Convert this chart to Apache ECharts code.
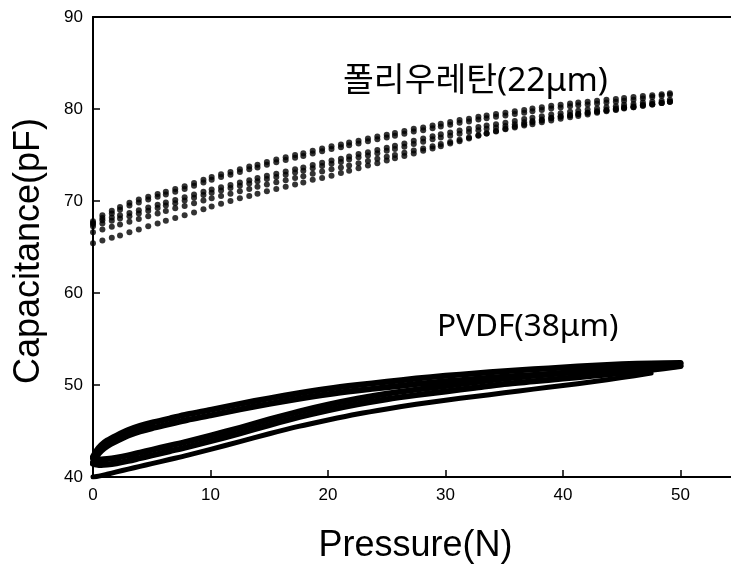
<!DOCTYPE html>
<html>
<head>
<meta charset="utf-8">
<script src="https://cdn.jsdelivr.net/npm/echarts@6/dist/echarts.min.js"></script>
<style>
  html, body { margin: 0; padding: 0; background: #fff; }
  #chart { width: 731px; height: 569px; }
</style>
</head>
<body>
<div id="chart"></div>
<script>
// Pressure readings (N) for the polyurethane film, one dot per reading
const puPressure = [0, 0.8, 1.6, 2.3, 3.1, 3.9, 4.7, 5.5, 6.2, 7.0, 7.8, 8.6, 9.4, 10.1, 10.9, 11.7,
  12.5, 13.3, 14.0, 14.8, 15.6, 16.4, 17.2, 17.9, 18.7, 19.5, 20.3, 21.1, 21.8, 22.6, 23.4, 24.2,
  25.0, 25.7, 26.5, 27.3, 28.1, 28.9, 29.6, 30.4, 31.2, 32.0, 32.8, 33.5, 34.3, 35.1, 35.9, 36.7,
  37.4, 38.2, 39.0, 39.8, 40.6, 41.3, 42.1, 42.9, 43.7, 44.5, 45.2, 46.0, 46.8, 47.6, 48.4, 49.1];

// Polyurethane (22 µm) capacitance (pF), one array per run
const puRun1 = [67.8, 68.45, 68.95, 69.35, 69.8, 70.15, 70.45, 70.75, 71.0, 71.3, 71.6, 71.95, 72.3, 72.6, 72.9, 73.15,
  73.45, 73.75, 73.95, 74.25, 74.5, 74.75, 75.0, 75.2, 75.45, 75.7, 75.95, 76.15, 76.35, 76.55, 76.8, 77.0,
  77.2, 77.4, 77.6, 77.85, 78.0, 78.2, 78.4, 78.6, 78.8, 78.95, 79.15, 79.3, 79.45, 79.6, 79.75, 79.9,
  80.05, 80.2, 80.35, 80.45, 80.6, 80.7, 80.8, 80.9, 81.0, 81.1, 81.2, 81.3, 81.4, 81.5, 81.6, 81.7];
const puRun2 = [67.5, 68.15, 68.65, 69.05, 69.5, 69.85, 70.15, 70.45, 70.7, 71.0, 71.3, 71.65, 72.0, 72.3, 72.6, 72.85,
  73.15, 73.45, 73.65, 73.95, 74.2, 74.45, 74.7, 74.9, 75.15, 75.4, 75.65, 75.85, 76.05, 76.25, 76.5, 76.7,
  76.9, 77.1, 77.3, 77.55, 77.7, 77.9, 78.1, 78.3, 78.5, 78.65, 78.85, 79.0, 79.15, 79.3, 79.45, 79.6,
  79.75, 79.9, 80.05, 80.15, 80.3, 80.4, 80.5, 80.6, 80.7, 80.8, 80.9, 81.0, 81.15, 81.3, 81.45, 81.55];
const puRun3 = [67.6, 67.9, 68.2, 68.45, 68.7, 69.0, 69.3, 69.6, 69.85, 70.1, 70.4, 70.7, 71.0, 71.25, 71.5, 71.75,
  72.0, 72.25, 72.5, 72.75, 72.95, 73.2, 73.45, 73.65, 73.9, 74.15, 74.4, 74.6, 74.85, 75.1, 75.3, 75.55,
  75.8, 76.0, 76.25, 76.55, 76.8, 77.05, 77.25, 77.45, 77.65, 77.85, 78.05, 78.2, 78.35, 78.5, 78.7, 78.9,
  79.05, 79.2, 79.4, 79.55, 79.7, 79.8, 79.95, 80.05, 80.2, 80.3, 80.45, 80.55, 80.7, 80.8, 80.9, 81.0];
const puRun4 = [67.25, 67.55, 67.85, 68.1, 68.35, 68.65, 68.95, 69.25, 69.5, 69.75, 70.05, 70.35, 70.65, 70.9, 71.15, 71.4,
  71.65, 71.9, 72.15, 72.4, 72.6, 72.85, 73.1, 73.3, 73.55, 73.8, 74.05, 74.25, 74.5, 74.75, 74.95, 75.2,
  75.45, 75.65, 75.9, 76.2, 76.45, 76.7, 76.9, 77.1, 77.3, 77.5, 77.7, 77.85, 78.0, 78.15, 78.35, 78.55,
  78.7, 78.85, 79.05, 79.2, 79.35, 79.45, 79.6, 79.7, 79.85, 79.95, 80.1, 80.2, 80.35, 80.5, 80.65, 80.8];
const puRun5 = [66.6, 66.9, 67.2, 67.45, 67.75, 68.05, 68.35, 68.65, 68.9, 69.2, 69.45, 69.75, 70.05, 70.3, 70.55, 70.8,
  71.05, 71.3, 71.55, 71.8, 72.05, 72.25, 72.5, 72.7, 72.95, 73.2, 73.45, 73.65, 73.85, 74.1, 74.35, 74.6,
  74.8, 75.0, 75.25, 75.5, 75.7, 75.95, 76.2, 76.4, 76.65, 76.9, 77.15, 77.35, 77.55, 77.8, 78.0, 78.2,
  78.35, 78.55, 78.75, 78.95, 79.1, 79.25, 79.4, 79.6, 79.75, 79.9, 80.05, 80.2, 80.35, 80.5, 80.65, 80.8];
const puRun6 = [65.4, 65.7, 66.0, 66.25, 66.6, 66.9, 67.25, 67.55, 67.85, 68.15, 68.45, 68.75, 69.1, 69.4, 69.7, 70.0,
  70.3, 70.55, 70.8, 71.05, 71.3, 71.55, 71.8, 72.0, 72.3, 72.5, 72.75, 73.05, 73.3, 73.55, 73.85, 74.1,
  74.4, 74.65, 74.9, 75.15, 75.45, 75.7, 75.95, 76.25, 76.5, 76.8, 77.1, 77.35, 77.6, 77.85, 78.1, 78.35,
  78.55, 78.75, 79.0, 79.15, 79.3, 79.45, 79.6, 79.75, 79.9, 80.05, 80.2, 80.3, 80.45, 80.55, 80.65, 80.8];

// Pressure (N) sample points for the PVDF film
const pvdfPressure = [0, 0.3, 0.7, 1.2, 2, 3, 4, 5, 6.5, 8, 10, 12.5, 15, 17.5, 20, 22.5, 25, 27.5,
  30, 32.5, 35, 37.5, 40, 42.5, 45, 47.5, 50];

// PVDF (38 µm) capacitance (pF): first loading, later loadings, unloadings
const pvdfFirstLoad = [40.0, 40.05, 40.15, 40.3, 40.55, 40.85, 41.15, 41.45, 41.9, 42.35, 43.0, 43.85, 44.7, 45.5,
  46.2, 46.85, 47.4, 47.9, 48.35, 48.75, 49.15, 49.55, 49.95, 50.35, 50.8, 51.3, null];
const pvdfLoadA = [42.05, 41.95, 41.9, 41.95, 42.1, 42.35, 42.65, 42.95, 43.4, 43.85, 44.5, 45.35, 46.25, 47.1,
  47.85, 48.5, 49.05, 49.5, 49.9, 50.3, 50.7, 51.0, 51.3, 51.6, 51.9, 52.15, 52.35];
const pvdfLoadB = [41.45, 41.35, 41.3, 41.35, 41.5, 41.75, 42.05, 42.35, 42.8, 43.25, 43.9, 44.75, 45.65, 46.5,
  47.25, 47.9, 48.45, 48.9, 49.3, 49.7, 50.1, 50.4, 50.7, 51.0, 51.3, 51.65, 52.05];
const pvdfUnloadA = [42.2, 42.85, 43.45, 43.95, 44.5, 45.1, 45.55, 45.9, 46.35, 46.8, 47.3, 47.95, 48.55, 49.1,
  49.6, 50.0, 50.35, 50.7, 51.0, 51.25, 51.5, 51.7, 51.9, 52.1, 52.25, 52.35, 52.4];
const pvdfUnloadB = [41.6, 42.25, 42.85, 43.35, 43.9, 44.5, 44.95, 45.3, 45.75, 46.2, 46.7, 47.35, 47.95, 48.5,
  49.0, 49.4, 49.75, 50.1, 50.4, 50.65, 50.9, 51.1, 51.3, 51.5, 51.65, 51.85, 52.1];

// Axis ranges and ticks
const xTicks = { min: 0, max: 54.3, interval: 10 };
const yTicks = { min: 40, max: 90, interval: 10 };

const pairs = (xs, ys) => xs.map((x, i) => [x, ys[i]]).filter(p => p[1] != null);

const latin = '"Liberation Sans", Arial, sans-serif';
const labelFont = '"Noto Sans", "Noto Sans CJK KR", sans-serif';

function dotSeries(ys) {
  return {
    type: 'scatter',
    data: pairs(puPressure, ys),
    symbol: 'circle',
    symbolSize: 6,
    itemStyle: { color: '#000' },
    silent: true,
    animation: false
  };
}

function lineSeries(ys, width) {
  return {
    type: 'line',
    data: pairs(pvdfPressure, ys),
    showSymbol: false,
    smooth: 0.3,
    lineStyle: { color: '#000', width: width, cap: 'round', join: 'round' },
    silent: true,
    animation: false
  };
}

const chart = echarts.init(document.getElementById('chart'), null, { renderer: 'canvas' });

const axisLine = { show: true, lineStyle: { color: '#000', width: 2 } };

chart.setOption({
  backgroundColor: '#fff',
  animation: false,
  grid: { left: 93, top: 17, right: 0, bottom: 91 },
  xAxis: [{
    type: 'value',
    min: xTicks.min, max: xTicks.max, interval: xTicks.interval,
    position: 'bottom',
    axisLine: axisLine,
    axisTick: { show: true, inside: true, length: 7, lineStyle: { color: '#000', width: 1.5 } },
    axisLabel: { color: '#000', fontFamily: latin, fontSize: 17, margin: 10, showMaxLabel: false },
    splitLine: { show: false },
    name: 'Pressure(N)',
    nameLocation: 'middle',
    nameGap: 51,
    nameTextStyle: { color: '#000', fontFamily: latin, fontSize: 36, padding: [0, 0, 0, 7] }
  }, {
    type: 'value',
    min: xTicks.min, max: xTicks.max,
    position: 'top',
    axisLine: axisLine,
    axisTick: { show: false },
    axisLabel: { show: false },
    splitLine: { show: false }
  }],
  yAxis: {
    type: 'value',
    min: yTicks.min, max: yTicks.max, interval: yTicks.interval,
    axisLine: axisLine,
    axisTick: { show: true, inside: true, length: 7, lineStyle: { color: '#000', width: 1.5 } },
    axisLabel: { color: '#000', fontFamily: latin, fontSize: 17, margin: 10 },
    splitLine: { show: false },
    name: 'Capacitance(pF)',
    nameLocation: 'middle',
    nameGap: 46,
    nameTextStyle: { color: '#000', fontFamily: latin, fontSize: 36, padding: [0, 8, 0, 0] }
  },
  series: [
    dotSeries(puRun1), dotSeries(puRun2), dotSeries(puRun3),
    dotSeries(puRun4), dotSeries(puRun5), dotSeries(puRun6),
    lineSeries(pvdfFirstLoad, 5),
    lineSeries(pvdfLoadA, 6), lineSeries(pvdfLoadB, 6),
    lineSeries(pvdfUnloadA, 6), lineSeries(pvdfUnloadB, 6)
  ],
  graphic: [{
    type: 'text', x: 343, y: 81, silent: true,
    style: { text: '폴리우레탄(22μm)', font: '33.5px ' + labelFont, fill: '#000',
             align: 'left', verticalAlign: 'middle' }
  }, {
    type: 'text', x: 437, y: 327, silent: true,
    style: { text: 'PVDF(38μm)', font: '31.5px ' + labelFont, fill: '#000',
             align: 'left', verticalAlign: 'middle' }
  }]
});
</script>
</body>
</html>
